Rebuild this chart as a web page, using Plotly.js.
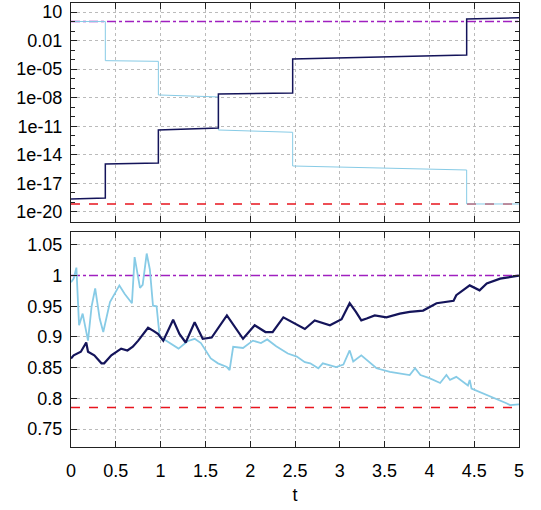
<!DOCTYPE html>
<html>
<head>
<meta charset="utf-8">
<script src="https://cdn.plot.ly/plotly-3.0.1.min.js"></script>
<style>html,body{margin:0;padding:0;background:#fff;}#chart{width:541px;height:510px;}</style>
</head>
<body>
<div id="chart"></div>
<script>
// ---- Top panel (log scale) step curves ----
const topDarkT = [0, 0.383, 0.383, 0.975, 0.975, 1.645, 1.645, 2.474, 2.474, 4.416, 4.416, 5];
const topDarkLog = [-18.63, -18.53, -14.96, -14.85, -11.39, -11.18, -7.61, -7.5, -3.93, -3.51, 0.265, 0.4];
const topLightT = [0, 0.383, 0.383, 0.975, 0.975, 1.645, 1.645, 2.474, 2.474, 4.416, 4.416, 5];
const topLightLog = [0, 0, -4.11, -4.18, -7.71, -7.92, -11.39, -11.63, -15.17, -15.59, -19.16, -19.16];
const topUpper = 1;
const topLower = 6.9e-20;
const topTickVals = [10, 0.01, 1e-5, 1e-8, 1e-11, 1e-14, 1e-17, 1e-20];
const topTickText = ["10", "0.01", "1e-05", "1e-08", "1e-11", "1e-14", "1e-17", "1e-20"];

// ---- Bottom panel ----
const botLightT = [0, 0.03, 0.06, 0.09, 0.13, 0.19, 0.23, 0.27, 0.32, 0.36, 0.435, 0.48, 0.54, 0.6, 0.68, 0.71, 0.77, 0.8, 0.845, 0.88, 0.915, 0.955, 0.99, 1.05, 1.12, 1.2, 1.3, 1.38, 1.45, 1.5, 1.56, 1.64, 1.74, 1.77, 1.81, 1.92, 2.03, 2.12, 2.19, 2.29, 2.36, 2.42, 2.52, 2.61, 2.67, 2.76, 2.81, 2.96, 3.04, 3.11, 3.15, 3.24, 3.41, 3.56, 3.78, 3.84, 3.9, 4.0, 4.12, 4.19, 4.23, 4.3, 4.43, 4.45, 4.47, 4.6, 4.75, 4.86, 4.9, 5];
const botLightV = [0.989, 0.995, 1.013, 0.919, 0.938, 0.894, 0.95, 0.979, 0.93, 0.908, 0.957, 0.968, 0.984, 0.97, 0.955, 1.03, 0.98, 0.985, 1.036, 1.01, 0.951, 0.95, 0.9, 0.895, 0.888, 0.881, 0.893, 0.897, 0.89, 0.878, 0.865, 0.857, 0.851, 0.846, 0.884, 0.882, 0.894, 0.89, 0.896, 0.885, 0.878, 0.873, 0.868, 0.859, 0.857, 0.849, 0.857, 0.851, 0.855, 0.878, 0.86, 0.87, 0.849, 0.843, 0.838, 0.849, 0.838, 0.833, 0.825, 0.838, 0.83, 0.835, 0.821, 0.83, 0.816, 0.808, 0.8, 0.792, 0.789, 0.79];
const botDarkT = [0, 0.03, 0.11, 0.17, 0.19, 0.26, 0.34, 0.37, 0.45, 0.56, 0.63, 0.69, 0.75, 0.86, 0.92, 0.97, 1.03, 1.14, 1.21, 1.28, 1.38, 1.47, 1.57, 1.74, 1.92, 2.05, 2.17, 2.25, 2.37, 2.47, 2.61, 2.72, 2.89, 3.02, 3.11, 3.18, 3.24, 3.3, 3.39, 3.52, 3.67, 3.78, 3.93, 4.08, 4.27, 4.3, 4.45, 4.56, 4.64, 4.79, 4.9, 5];
const botDarkV = [0.865, 0.87, 0.876, 0.891, 0.876, 0.87, 0.857, 0.857, 0.87, 0.881, 0.878, 0.884, 0.894, 0.915, 0.91, 0.905, 0.894, 0.928, 0.905, 0.891, 0.924, 0.897, 0.899, 0.935, 0.897, 0.919, 0.908, 0.908, 0.932, 0.924, 0.913, 0.927, 0.919, 0.929, 0.955, 0.941, 0.927, 0.93, 0.935, 0.932, 0.938, 0.941, 0.943, 0.955, 0.959, 0.968, 0.984, 0.976, 0.987, 0.995, 0.997, 1.0];
const botUpper = 1;
const botLower = 0.785;
const botTickVals = [0.75, 0.8, 0.85, 0.9, 0.95, 1, 1.05];
const botTickText = ["0.75", "0.8", "0.85", "0.9", "0.95", "1", "1.05"];
const xTickVals = [0, 0.5, 1, 1.5, 2, 2.5, 3, 3.5, 4, 4.5, 5];
const xTickText = ["0", "0.5", "1", "1.5", "2", "2.5", "3", "3.5", "4", "4.5", "5"];

const navy = "#14145a";
const sky = "#87cbe6";
const purple = "#a020c0";
const red = "#e8141e";

const traces = [
  {x: [0, 5], y: [topUpper, topUpper], xaxis: "x2", yaxis: "y2", mode: "lines", line: {color: purple, width: 1.5, dash: "dashdot"}},
  {x: [0, 5], y: [topLower, topLower], xaxis: "x2", yaxis: "y2", mode: "lines", line: {color: red, width: 1.5, dash: "dash"}},
  {x: topLightT, y: topLightLog.map(v => Math.pow(10, v)), xaxis: "x2", yaxis: "y2", mode: "lines", line: {color: sky, width: 1}},
  {x: topDarkT, y: topDarkLog.map(v => Math.pow(10, v)), xaxis: "x2", yaxis: "y2", mode: "lines", line: {color: navy, width: 1.5}},
  {x: [0, 5], y: [botUpper, botUpper], xaxis: "x", yaxis: "y", mode: "lines", line: {color: purple, width: 1.5, dash: "dashdot"}},
  {x: [0, 5], y: [botLower, botLower], xaxis: "x", yaxis: "y", mode: "lines", line: {color: red, width: 1.5, dash: "dash"}},
  {x: botLightT, y: botLightV, xaxis: "x", yaxis: "y", mode: "lines", line: {color: sky, width: 1.8}},
  {x: botDarkT, y: botDarkV, xaxis: "x", yaxis: "y", mode: "lines", line: {color: navy, width: 2.2}}
];

const font = {family: "Liberation Sans, Arial, sans-serif", size: 18, color: "#000"};
const common = {
  showline: true, mirror: "allticks", linecolor: "#222", linewidth: 1.2,
  ticks: "inside", ticklen: 6, tickcolor: "#222",
  showgrid: true, gridcolor: "#bbbbbb", griddash: "dot", gridwidth: 1,
  zeroline: false, tickfont: font
};

const layout = {
  width: 541, height: 510,
  margin: {l: 71, r: 22, t: 3, b: 63},
  paper_bgcolor: "#fff", plot_bgcolor: "#fff",
  showlegend: false,
  font: font,
  xaxis: Object.assign({}, common, {
    domain: [0, 1], range: [0, 5], anchor: "y",
    tickmode: "array", tickvals: xTickVals, ticktext: xTickText,
    ticklabelstandoff: 7,
    title: {text: "t", font: font, standoff: 8}
  }),
  yaxis: Object.assign({}, common, {
    domain: [0, 0.4842], range: [0.7207, 1.071], anchor: "x",
    tickmode: "array", tickvals: botTickVals, ticktext: botTickText,
    ticklabelstandoff: 4
  }),
  xaxis2: Object.assign({}, common, {
    domain: [0, 1], range: [0, 5], anchor: "y2", matches: "x",
    tickmode: "array", tickvals: xTickVals, showticklabels: false
  }),
  yaxis2: Object.assign({}, common, {
    domain: [0.5068, 1], type: "log", range: [-21.05, 1.945], anchor: "x2",
    tickmode: "array", tickvals: topTickVals, ticktext: topTickText,
    ticklabelstandoff: 4,
    minor: {tickmode: "linear", tick0: 0, dtick: 1, ticks: "inside", ticklen: 4, tickcolor: "#222", showgrid: false}
  })
};

Plotly.newPlot("chart", traces, layout, {staticPlot: true, displayModeBar: false});
</script>
</body>
</html>
